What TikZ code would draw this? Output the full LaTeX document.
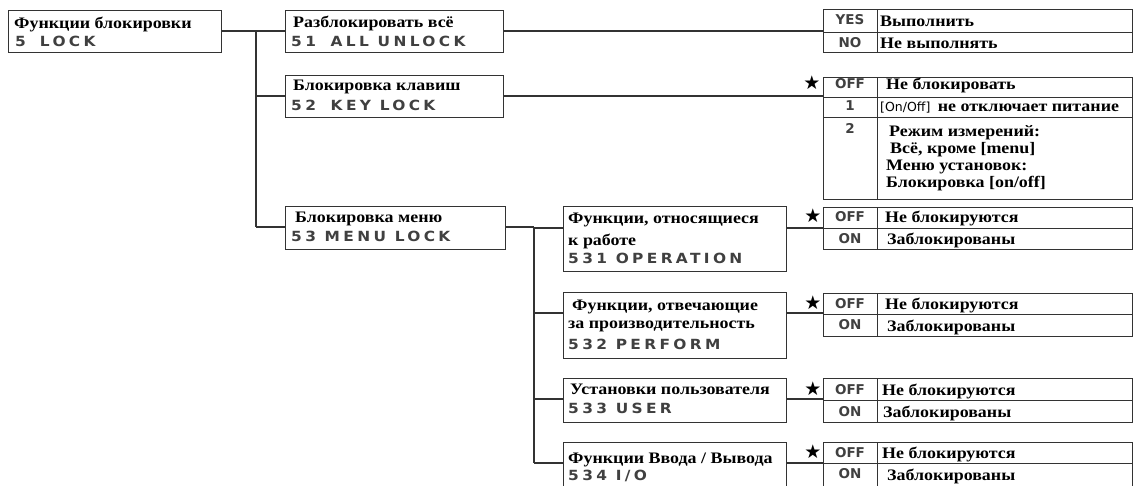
\documentclass[tikz,border=0pt]{standalone}
\usepackage{fontspec}
\setmainfont{Liberation Serif}
\newfontfamily\serf{Liberation Serif}[FakeStretch=1.12]
\newfontfamily\codef{DejaVu Sans}[FakeStretch=1.1,LetterSpace=24]
\newfontfamily\keyf{DejaVu Sans}
\newfontfamily\onoff{DejaVu Sans}
\colorlet{frame}{black!80}
\colorlet{codec}{black!75}
\tikzset{
  box/.style={draw=frame,line width=1.3pt,inner sep=0,anchor=north west,fill=white},
  tx/.style={anchor=base west,inner sep=0,font=\serf\bfseries\fontsize{16}{18}\selectfont},
  cd/.style={anchor=base west,inner sep=0,font=\codef\bfseries\fontsize{14}{16}\selectfont,text=codec},
  ky/.style={anchor=base,inner sep=0,font=\keyf\bfseries\fontsize{13.5}{15}\selectfont,text=codec},
  st/.style={inner sep=0,font=\keyf\fontsize{19}{21}\selectfont},
  conn/.style={draw=frame,line width=1.3pt},
}
\newcommand\mkbox[5]{\node[box,minimum width=#4pt,minimum height=#5pt] (#1) at (#2,#3) {};}
\newcommand\mkrow[3]{%
  \node[box,minimum width=54pt,minimum height=#3pt] (#1k) at (823,#2) {};
  \node[box,minimum width=255pt,minimum height=#3pt] (#1v) at (877,#2) {};}
\begin{document}
\begin{tikzpicture}[x=1pt,y=-1pt]
\useasboundingbox (0,0) rectangle (1134,485);
\clip (0,0) rectangle (1134,485);
\fill[white] (0,0) rectangle (1134,485);

% junction coordinates
\coordinate (j1) at (256,31);
\coordinate (j2) at (534,227);
\coordinate (b531) at (534,228);
\coordinate (b532) at (534,313);
\coordinate (b533) at (534,399);
\coordinate (b534) at (534,463);

% connectors
\draw[conn] (8,31) -- (285,31);
\draw[conn] (j1) -- (j1 |- 0,227);
\draw[conn] (j1 |- 0,96) -- (285,96);
\draw[conn] (j1 |- 0,227) -- (285,227);
\draw[conn] (503,31) -- (823,31);
\draw[conn] (503,96) -- (823,96);
\draw[conn] (505,227) -- (j2);
\draw[conn] (j2) -- (b534);
\draw[conn] (b531) -- (786,228) -- (823,228);
\draw[conn] (b532) -- (823,313);
\draw[conn] (b533) -- (823,399);
\draw[conn] (b534) -- (823,463);

% boxes
\mkbox{n5}{8}{10}{213}{42}
\mkbox{n51}{285}{10}{218}{42}
\mkbox{n52}{285}{75}{218}{42}
\mkbox{n53}{285}{206}{220}{43}
\mkbox{n531}{563}{206}{223}{65}
\mkbox{n532}{563}{292}{223}{66}
\mkbox{n533}{563}{378}{223}{44}
\mkbox{n534}{563}{442}{223}{50}

% box texts
\node[tx] (x5a) at (14,28) {Функции блокировки};
\node[cd] (x5b) at (15,46) {5\hspace{14pt}LOCK};
\node[tx] (x51a) at (293,27) {Разблокировать всё};
\node[cd] (x51b) at (291,46) {51\hspace{6pt} ALL UNLOCK};
\node[tx] (x52a) at (293,90) {Блокировка клавиш};
\node[cd] (x52b) at (291,110) {52\hspace{6pt} KEY LOCK};
\node[tx] (x53a) at (295,222) {Блокировка меню};
\node[cd] (x53b) at (291,241) {53 MENU LOCK};
\node[tx] (x531a) at (568,223) {Функции, относящиеся};
\node[tx] (x531b) at (568,245) {к работе};
\node[cd] (x531c) at (568,263) {531 OPERATION};
\node[tx] (x532a) at (572,310) {Функции, отвечающие};
\node[tx] (x532b) at (568,328) {за производительность};
\node[cd] (x532c) at (568,349) {532 PERFORM};
\node[tx] (x533a) at (570,394) {Установки пользователя};
\node[cd] (x533b) at (568,413) {533 USER};
\node[tx] (x534a) at (568,463) {Функции Ввода / Вывода};
\node[cd] (x534b) at (568,480) {534 I/O};

% tables
\mkrow{t51a}{9}{23}
\mkrow{t51b}{32}{20}
\mkrow{t52a}{77}{20}
\mkrow{t52b}{97}{20}
\mkrow{t52c}{117}{82}
\mkrow{t531a}{207}{21}
\mkrow{t531b}{228}{21}
\mkrow{t532a}{293}{21}
\mkrow{t532b}{314}{22}
\mkrow{t533a}{378}{22}
\mkrow{t533b}{400}{22}
\mkrow{t534a}{442}{21}
\mkrow{t534b}{463}{26}

% stars
\node[st] (s52) at (812,83) {★};
\node[st] (s531) at (813,216) {★};
\node[st] (s532) at (813,303) {★};
\node[st] (s533) at (813,389) {★};
\node[st] (s534) at (813,452) {★};

% table texts
\node[ky] (k51a) at (850,24) {YES};
\node[tx] (v51a) at (880,26) {Выполнить};
\node[ky] (k51b) at (850,47) {NO};
\node[tx] (v51b) at (880,48) {Не выполнять};

\node[ky] (k52a) at (850,88) {OFF};
\node[tx] (v52a) at (886,89) {Не блокировать};
\node[ky] (k52b) at (850,110) {1};
\node[tx] (v52b) at (880,111) {{\onoff\mdseries\fontsize{12.5}{14}\selectfont[On/Off]}\hspace{3pt} не отключает питание};
\node[ky] (k52c) at (850,133) {2};
\node[tx] (v52c1) at (889,136) {Режим измерений:};
\node[tx] (v52c2) at (890,153) {Всё, кроме [menu]};
\node[tx] (v52c3) at (886,170) {Меню установок:};
\node[tx] (v52c4) at (886,187) {Блокировка [on/off]};

\node[ky] (k531a) at (850,221) {OFF};
\node[tx] (v531a) at (885,222) {Не блокируются};
\node[ky] (k531b) at (850,243) {ON};
\node[tx] (v531b) at (887,244) {Заблокированы};

\node[ky] (k532a) at (850,308) {OFF};
\node[tx] (v532a) at (885,309) {Не блокируются};
\node[ky] (k532b) at (850,329) {ON};
\node[tx] (v532b) at (887,331) {Заблокированы};

\node[ky] (k533a) at (850,394) {OFF};
\node[tx] (v533a) at (882,395) {Не блокируются};
\node[ky] (k533b) at (850,416) {ON};
\node[tx] (v533b) at (883,417) {Заблокированы};

\node[ky] (k534a) at (850,457) {OFF};
\node[tx] (v534a) at (882,458) {Не блокируются};
\node[ky] (k534b) at (850,478) {ON};
\node[tx] (v534b) at (887,480) {Заблокированы};
\end{tikzpicture}
\end{document}
